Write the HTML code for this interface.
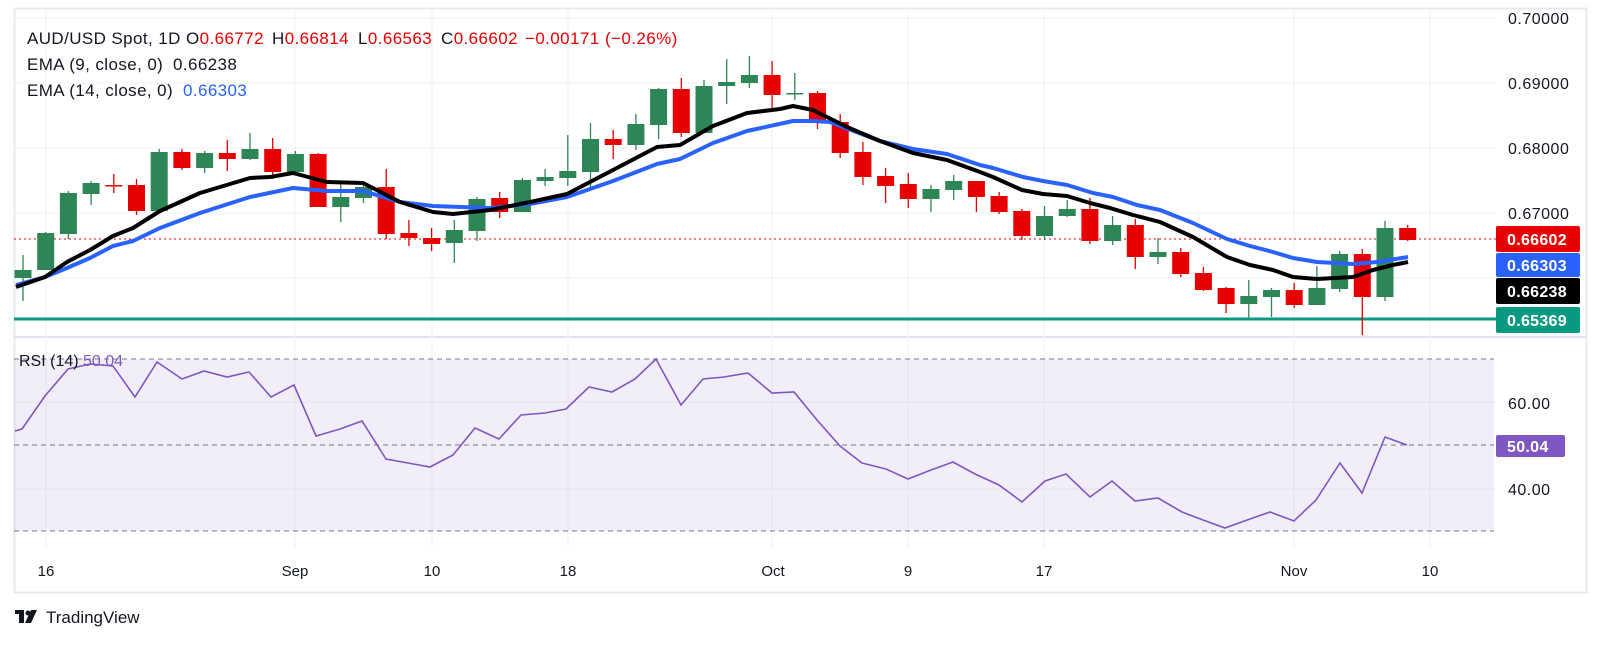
<!DOCTYPE html>
<html><head><meta charset="utf-8"><style>
body{margin:0;background:#fff;width:1601px;height:644px;overflow:hidden;font-family:"Liberation Sans",sans-serif}
</style></head><body>
<svg width="1601" height="644" xmlns="http://www.w3.org/2000/svg" font-family="Liberation Sans, sans-serif">
<rect x="0" y="0" width="1601" height="644" fill="#fff"/>
<rect x="14.5" y="8.5" width="1572" height="584" fill="none" stroke="#e8e9ee" stroke-width="2"/>
<line x1="14" y1="337" x2="1587" y2="337" stroke="#e0e3eb" stroke-width="2"/>
<g stroke="#f0f1f5" stroke-width="1">
<line x1="14" y1="18" x2="1496" y2="18"/><line x1="14" y1="83" x2="1496" y2="83"/><line x1="14" y1="148" x2="1496" y2="148"/><line x1="14" y1="213" x2="1496" y2="213"/><line x1="14" y1="278" x2="1496" y2="278"/>
<line x1="46" y1="8" x2="46" y2="548"/><line x1="295" y1="8" x2="295" y2="548"/><line x1="432" y1="8" x2="432" y2="548"/><line x1="568" y1="8" x2="568" y2="548"/><line x1="772" y1="8" x2="772" y2="548"/><line x1="908" y1="8" x2="908" y2="548"/><line x1="1044" y1="8" x2="1044" y2="548"/><line x1="1294" y1="8" x2="1294" y2="548"/><line x1="1430" y1="8" x2="1430" y2="548"/>
</g>
<rect x="14" y="359" width="1480" height="172" fill="#7e57c2" fill-opacity="0.1"/>
<g stroke="#e4e0ee" stroke-width="1"><line x1="14" y1="402" x2="1494" y2="402"/><line x1="14" y1="489" x2="1494" y2="489"/></g>
<g stroke="#787b86" stroke-width="1" stroke-dasharray="5,4"><line x1="14" y1="359" x2="1494" y2="359"/><line x1="14" y1="445" x2="1494" y2="445"/><line x1="14" y1="531" x2="1494" y2="531"/></g>
<polyline fill="none" stroke="#7e57c2" stroke-width="1.6" points="15,431 22,429 45,396 68,369 90,364 113,366 135,397 157,362 182,379 204,371 227,377 249,372 271,397 294,385 316,436 340,429 362,421 386,459 408,463 430,467 453,455 475,428 499,439 521,415 545,413 566,409 589,387 612,392 635,379 656,359 681,405 703,379 724,377 748,373 772,393 794,392 817,420 840,446 862,463 886,469 908,479 931,470 953,462 975,474 999,485 1022,502 1045,481 1066,474 1090,497 1112,481 1135,501 1158,498 1182,512 1203,520 1225,528 1250,519 1270,512 1294,521 1316,500 1340,463 1362,493 1385,437 1407,445"/>
<line x1="14" y1="319" x2="1496" y2="319" stroke="#089981" stroke-width="3"/>
<line x1="14" y1="239" x2="1496" y2="239" stroke="#e60000" stroke-width="1" stroke-dasharray="2,3"/>
<g id="c"></g>
<polyline fill="none" stroke="#2962ff" stroke-width="4" stroke-linejoin="round" points="16,285 45,277 67,268 90,258 113,246 133,241 160,228 200,213 250,197 293,188 327,191 363,191 400,202 433,206 490,208 530,204 567,197 613,181 657,164 680,159 713,143 747,131 793,121 813,121 830,122 880,141 913,149 947,154 980,165 993,168 1023,177 1043,181 1067,185 1093,193 1113,197 1137,205 1160,210 1193,223 1227,239 1250,246 1273,252 1293,258 1317,262 1353,264 1377,262 1408,257"/>
<polyline fill="none" stroke="#000" stroke-width="4" stroke-linejoin="round" points="16,287 45,277 67,262 90,250 113,236 133,228 160,211 200,193 250,178 270,177 293,173 327,182 363,183 400,202 433,212 453,214 490,210 530,202 567,194 613,170 657,147 680,145 713,126 747,113 780,109 793,106 813,110 847,127 880,141 913,153 947,160 980,172 993,177 1022,190 1043,194 1067,196 1090,203 1110,208 1133,215 1160,222 1193,237 1227,257 1250,265 1273,270 1293,277 1317,279 1353,277 1373,270 1393,265 1408,262"/>
<g font-size="17" fill="#131722" letter-spacing="0.4">
<text x="27" y="44">AUD/USD Spot, 1D</text>
<text x="186" y="44">O<tspan fill="#e60000">0.66772</tspan></text>
<text x="272" y="44">H<tspan fill="#e60000">0.66814</tspan></text>
<text x="358" y="44">L<tspan fill="#e60000">0.66563</tspan></text>
<text x="441" y="44">C<tspan fill="#e60000">0.66602</tspan></text>
<text x="525" y="44" fill="#e60000">−0.00171</text>
<text x="605" y="44" fill="#e60000">(−0.26%)</text>
<text x="27" y="70">EMA (9, close, 0)</text><text x="173" y="70">0.66238</text>
<text x="27" y="96">EMA (14, close, 0)</text><text x="183" y="96" fill="#2962ff">0.66303</text>
<text x="19" y="366" font-size="16" letter-spacing="0">RSI (14) <tspan fill="#7e57c2">50.04</tspan></text>
</g>
<g font-size="16" fill="#131722" letter-spacing="0.5">
<text x="1508" y="24">0.70000</text><text x="1508" y="89">0.69000</text><text x="1508" y="154">0.68000</text><text x="1508" y="219">0.67000</text>
<text x="1508" y="409">60.00</text><text x="1508" y="495">40.00</text>
</g>
<rect x="1496" y="226" width="84" height="26" rx="2" fill="#e60000"/>
<rect x="1496" y="253" width="84" height="24" rx="2" fill="#2962ff"/>
<rect x="1496" y="278" width="84" height="26" rx="2" fill="#000"/>
<rect x="1496" y="307" width="84" height="26" rx="2" fill="#089981"/>
<rect x="1496" y="435" width="69" height="22" rx="2" fill="#7e57c2"/>
<g font-size="16" fill="#fff" font-weight="bold" letter-spacing="0.3">
<text x="1507" y="245">0.66602</text><text x="1507" y="271">0.66303</text><text x="1507" y="297">0.66238</text><text x="1507" y="326">0.65369</text><text x="1507" y="452">50.04</text>
</g>
<g font-size="15" fill="#131722" text-anchor="middle">
<text x="46" y="576">16</text><text x="295" y="576">Sep</text><text x="432" y="576">10</text><text x="568" y="576">18</text><text x="773" y="576">Oct</text><text x="908" y="576">9</text><text x="1044" y="576">17</text><text x="1294" y="576">Nov</text><text x="1430" y="576">10</text>
</g>
<g fill="#131722"><rect x="15" y="610" width="9" height="4"/><rect x="19" y="610" width="5" height="13"/><circle cx="28" cy="613" r="2.5"/><polygon points="31,610 37,610 31,623 25,623"/></g>
<text x="46" y="623" font-size="17" fill="#131722">TradingView</text>
</svg>
<script>
var d=[[270,278,255,301,1],[233,270,232,270,1],[193,234,191,239,1],[183,194,181,205,1],[185,186,174,193,0],[185,211,179,215,0],[152,211,149,211,1],[152,168,149,170,0],[153,168,151,173,1],[153,159,140,171,0],[149,159,133,160,1],[149,172,138,179,0],[154,172,151,175,1],[154,207,153,207,0],[197,207,181,222,1],[187,198,181,203,1],[187,234,169,239,0],[233,238,220,246,0],[238,244,228,251,0],[230,243,220,263,1],[199,231,197,241,1],[198,212,192,218,0],[180,212,178,212,1],[177,181,169,186,1],[171,178,135,186,1],[139,172,123,189,1],[139,145,130,159,0],[124,145,114,150,1],[89,125,88,139,1],[89,133,78,137,0],[86,133,80,133,1],[82,86,59,104,1],[75,83,56,88,1],[75,95,61,112,0],[93,94,73,100,1],[93,123,91,129,0],[122,153,114,158,0],[152,177,142,185,0],[176,186,168,203,0],[184,199,173,208,0],[189,199,185,212,1],[181,190,175,200,1],[181,197,181,212,0],[196,212,192,214,0],[211,236,209,240,0],[216,236,206,240,1],[209,216,200,217,1],[209,241,198,244,0],[225,241,216,245,1],[225,257,219,269,0],[252,257,238,264,1],[252,274,248,277,0],[273,290,267,291,0],[288,304,287,313,0],[296,304,280,318,1],[290,297,288,317,1],[290,305,283,308,0],[288,305,266,305,1],[254,289,251,292,1],[254,297,249,335,0],[228,297,221,301,1],[228,240,225,241,0]];
var s='';d.forEach(function(c,i){var x=23+22.7*i;var col=c[4]?'#2e8555':'#e60000';
s+='<line x1="'+x+'" x2="'+x+'" y1="'+c[2]+'" y2="'+c[3]+'" stroke="'+col+'" stroke-width="1.3"/>';
s+='<rect x="'+(x-8.5)+'" y="'+c[0]+'" width="17" height="'+Math.max(1.5,c[1]-c[0])+'" fill="'+col+'"/>';});
document.getElementById('c').innerHTML=s;
</script>
</body></html>
